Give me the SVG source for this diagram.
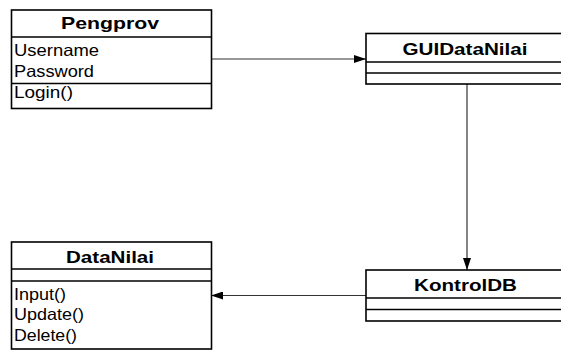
<svg xmlns="http://www.w3.org/2000/svg" width="561" height="350" viewBox="0 0 561 350">
<defs>
<marker id="arr" viewBox="0 0 12 8" refX="12" refY="4" markerWidth="12" markerHeight="8" markerUnits="userSpaceOnUse" orient="auto">
<path d="M0,0 L12,4 L0,8 Z" fill="#000"/>
</marker>
<style>
.box{fill:#fff;stroke:#000;stroke-width:1.6}
.div{stroke:#000;stroke-width:1.4}
.title{font-family:"Liberation Sans",Arial,sans-serif;font-weight:bold;font-size:17px;fill:#000;text-anchor:middle}
.attr{font-family:"Liberation Sans",Arial,sans-serif;font-size:16.5px;fill:#000}
.conn{stroke:#333;stroke-width:1.2;fill:none}
</style>
</defs>
<g id="connectors">
<line class="conn" x1="212" y1="59" x2="366" y2="59" marker-end="url(#arr)"/>
<line class="conn" x1="467" y1="84" x2="467" y2="270" marker-end="url(#arr)"/>
<line class="conn" x1="366" y1="295.5" x2="211" y2="295.5" marker-end="url(#arr)"/>
</g>
<g id="Pengprov">
<rect class="box" x="11.5" y="10" width="200" height="98.5"/>
<line class="div" x1="11.5" y1="37" x2="211.5" y2="37"/>
<line class="div" x1="11.5" y1="83.5" x2="211.5" y2="83.5"/>
<text class="title" x="110" y="28.5" textLength="98" lengthAdjust="spacingAndGlyphs">Pengprov</text>
<text class="attr" x="14" y="56" textLength="85" lengthAdjust="spacingAndGlyphs">Username</text>
<text class="attr" x="14" y="76.5" textLength="80" lengthAdjust="spacingAndGlyphs">Password</text>
<text class="attr" x="14" y="98" textLength="59" lengthAdjust="spacingAndGlyphs">Login()</text>
</g>
<g id="GUIDataNilai">
<rect class="box" x="366" y="33.5" width="205" height="50.5"/>
<line class="div" x1="366" y1="62" x2="571" y2="62"/>
<line class="div" x1="366" y1="73" x2="571" y2="73"/>
<text class="title" x="465" y="55" textLength="125" lengthAdjust="spacingAndGlyphs">GUIDataNilai</text>
</g>
<g id="KontrolDB">
<rect class="box" x="366" y="270" width="205" height="51"/>
<line class="div" x1="366" y1="298" x2="571" y2="298"/>
<line class="div" x1="366" y1="309.5" x2="571" y2="309.5"/>
<text class="title" x="465.5" y="290.5" textLength="103" lengthAdjust="spacingAndGlyphs">KontrolDB</text>
</g>
<g id="DataNilai">
<rect class="box" x="11.5" y="242" width="200" height="107"/>
<line class="div" x1="11.5" y1="269" x2="211.5" y2="269"/>
<line class="div" x1="11.5" y1="281" x2="211.5" y2="281"/>
<text class="title" x="110" y="262.5" textLength="88" lengthAdjust="spacingAndGlyphs">DataNilai</text>
<text class="attr" x="14" y="299.5" textLength="52" lengthAdjust="spacingAndGlyphs">Input()</text>
<text class="attr" x="14" y="320" textLength="70" lengthAdjust="spacingAndGlyphs">Update()</text>
<text class="attr" x="14" y="340.5" textLength="63" lengthAdjust="spacingAndGlyphs">Delete()</text>
</g>
</svg>
